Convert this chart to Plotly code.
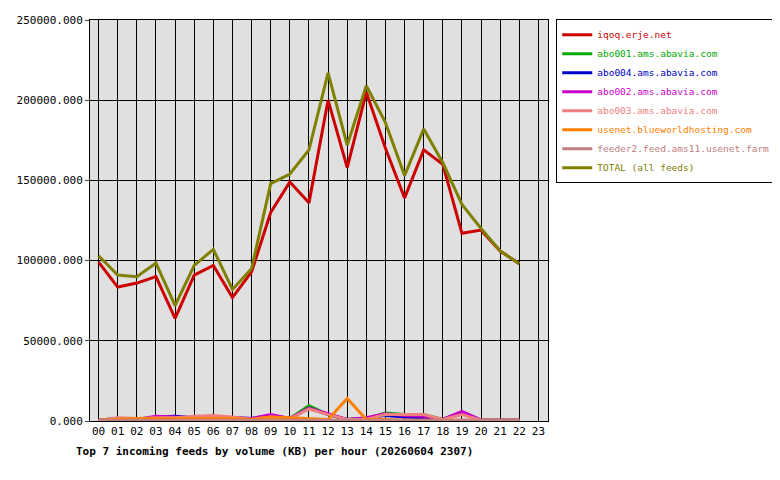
import plotly.graph_objects as go

hours = [f"{h:02d}" for h in range(24)]
x_idx = list(range(23))  # data through hour 22

iqoq = [99000, 83500, 86000, 90000, 64000, 91000, 97000, 77000, 93000, 130000, 149000, 136000, 200000, 158000, 205000, 170000, 139000, 169000, 160000, 117000, 119000, 106000, 98000]
abo001 = [500, 1500, 1000, 2500, 2500, 2000, 2500, 1500, 1000, 3000, 1500, 9500, 4000, 1000, 1500, 5000, 4000, 4000, 1000, 5000, 500, 500, 500]
abo004 = [500, 1500, 1000, 2500, 3000, 2000, 2000, 2000, 1500, 3500, 1500, 8000, 4000, 1000, 1500, 3500, 2500, 2000, 1000, 5500, 500, 500, 500]
abo002 = [500, 1500, 1000, 3000, 2500, 2000, 2000, 2000, 1500, 4000, 1500, 8000, 4500, 1000, 2000, 4500, 3500, 3000, 1000, 6000, 500, 500, 500]
abo003 = [500, 2000, 1500, 2000, 2000, 3000, 3500, 2500, 1000, 2500, 1500, 7500, 4000, 1000, 1000, 4000, 4000, 4000, 1000, 4000, 500, 500, 500]
bluew = [500, 1000, 1500, 1500, 1500, 1500, 1500, 1500, 1000, 2500, 2000, 1500, 1000, 14000, 1000, 1000, 500, 500, 500, 500, 500, 500, 500]
feeder2 = [500] * 23
total = [103000, 91000, 90000, 98500, 72000, 97000, 107000, 82000, 95000, 148000, 154000, 169000, 217000, 172000, 209000, 186000, 153000, 182000, 161000, 135000, 120000, 106000, 98000]

series = [
    ("iqoq.erje.net", iqoq, "#cc0000"),
    ("abo001.ams.abavia.com", abo001, "#00aa00"),
    ("abo004.ams.abavia.com", abo004, "#0000cc"),
    ("abo002.ams.abavia.com", abo002, "#cc00cc"),
    ("abo003.ams.abavia.com", abo003, "#f08080"),
    ("usenet.blueworldhosting.com", bluew, "#ff8000"),
    ("feeder2.feed.ams11.usenet.farm", feeder2, "#c08080"),
    ("TOTAL (all feeds)", total, "#808000"),
]

fig = go.Figure()
for name, vals, col in series:
    fig.add_trace(go.Scatter(x=x_idx, y=vals, mode="lines",
                             name=f"<span style='color:{col}'>{name}</span>",
                             line=dict(color=col, width=3)))

font = "DejaVu Sans Mono, monospace"
fig.update_layout(
    width=772, height=472,
    margin=dict(l=82, r=232, t=12, b=59, autoexpand=False),
    paper_bgcolor="white", plot_bgcolor="#e0e0e0",
    font=dict(family=font, size=11, color="black"),
    showlegend=True,
    legend=dict(x=1.018, y=1.002, xanchor="left", yanchor="top",
                bordercolor="black", borderwidth=1, bgcolor="white",
                font=dict(family=font, size=9.5), tracegroupgap=0, itemwidth=30),
    xaxis=dict(range=[-0.45, 23.5], tickmode="array", tickvals=list(range(24)),
               ticktext=hours, showgrid=True, gridcolor="black", gridwidth=1,
               showline=True, linecolor="black", mirror=True, zeroline=False,
               ticks="", automargin=False, tickfont=dict(family=font, size=11)),
    yaxis=dict(range=[0, 250000], tickmode="array",
               tickvals=[0, 50000, 100000, 150000, 200000, 250000],
               ticktext=["0.000", "50000.000", "100000.000", "150000.000", "200000.000", "250000.000"],
               showgrid=True, gridcolor="black", gridwidth=1,
               showline=True, linecolor="black", mirror=True, zeroline=False,
               ticks="outside", ticklen=4, automargin=False,
               tickfont=dict(family=font, size=11)),
    annotations=[dict(text="<b>Top 7 incoming feeds by volume (KB) per hour (20260604 2307)</b>",
                      xref="paper", yref="paper", x=-0.035, y=-0.055, xanchor="left",
                      yanchor="top", showarrow=False, font=dict(family=font, size=11))],
)
fig.write_html("out.html")
